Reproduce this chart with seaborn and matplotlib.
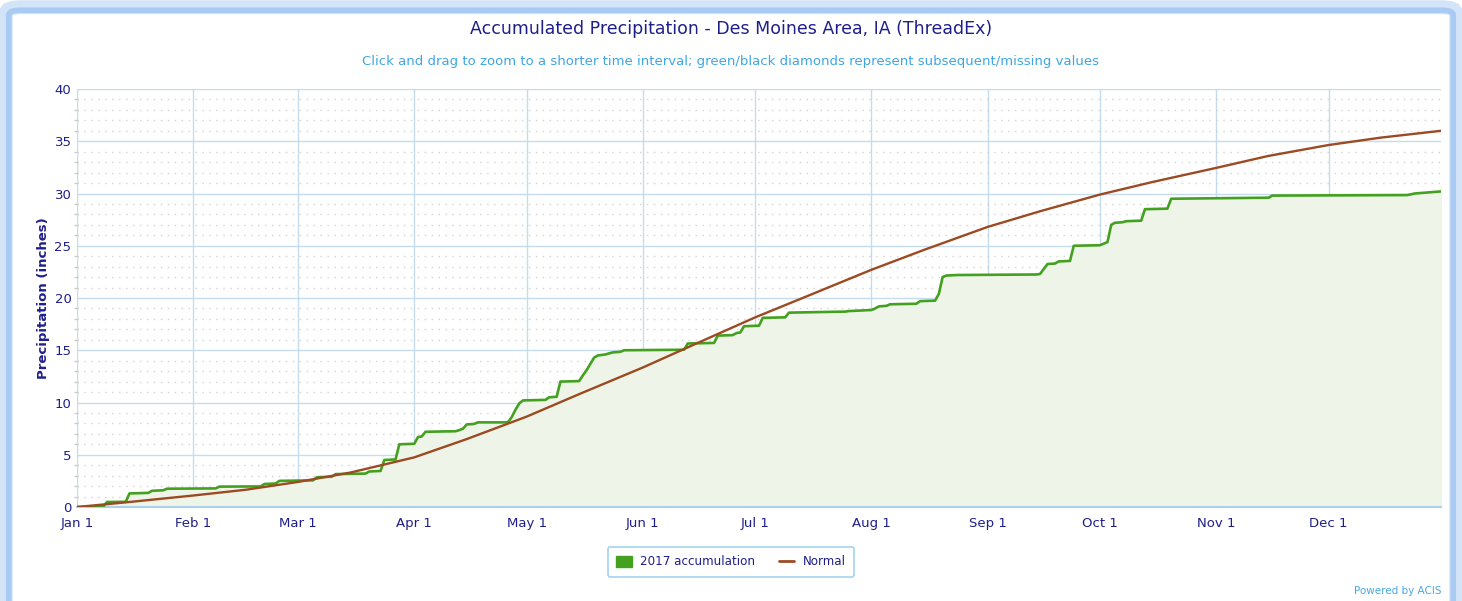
import numpy as np
import pandas as pd
import matplotlib
matplotlib.use("Agg")
import matplotlib.pyplot as plt
from matplotlib.patches import Patch, FancyBboxPatch
from matplotlib.lines import Line2D
import seaborn as sns

# 2017 accumulated precipitation (inches) at its change points
acc_dates = ["01-01", "01-08", "01-09", "01-14", "01-15", "01-20", "01-21", "01-24", "01-25",
             "02-07", "02-08", "02-19", "02-20", "02-23", "02-24", "03-05", "03-06", "03-10",
             "03-11", "03-19", "03-20", "03-23", "03-24", "03-27", "03-28", "04-01", "04-02",
             "04-03", "04-04", "04-12", "04-13", "04-14", "04-15", "04-17", "04-18", "04-26",
             "04-27", "04-28", "04-29", "04-30", "05-06", "05-07", "05-09", "05-10", "05-15",
             "05-16", "05-17", "05-18", "05-19", "05-20", "05-22", "05-24", "05-26", "05-27",
             "06-12", "06-13", "06-20", "06-21", "06-25", "06-26", "06-27", "06-28", "07-02",
             "07-03", "07-09", "07-10", "07-25", "07-26", "08-01", "08-02", "08-03", "08-05",
             "08-06", "08-13", "08-14", "08-18", "08-19", "08-20", "08-21", "08-24", "09-14",
             "09-15", "09-17", "09-19", "09-20", "09-23", "09-24", "10-01", "10-03", "10-04",
             "10-05", "10-07", "10-08", "10-12", "10-13", "10-19", "10-20", "11-15", "11-16",
             "12-22", "12-24", "12-31"]
acc_vals = [0.0, 0.05, 0.48, 0.5, 1.3, 1.35, 1.55, 1.6, 1.75,
            1.78, 1.95, 1.97, 2.2, 2.25, 2.5, 2.55, 2.85, 2.9,
            3.15, 3.2, 3.4, 3.45, 4.5, 4.55, 6.0, 6.05, 6.7,
            6.75, 7.2, 7.25, 7.35, 7.5, 7.9, 7.95, 8.1, 8.1,
            8.6, 9.3, 9.9, 10.2, 10.25, 10.5, 10.55, 12.0, 12.05,
            12.6, 13.1, 13.7, 14.3, 14.5, 14.6, 14.8, 14.85, 15.0,
            15.05, 15.65, 15.7, 16.4, 16.45, 16.65, 16.7, 17.3, 17.35,
            18.1, 18.15, 18.6, 18.7, 18.75, 18.85, 19.0, 19.2, 19.25,
            19.4, 19.45, 19.7, 19.75, 20.4, 22.0, 22.15, 22.2, 22.25,
            22.3, 23.25, 23.3, 23.5, 23.55, 25.0, 25.05, 25.35, 27.0,
            27.2, 27.25, 27.35, 27.4, 28.5, 28.55, 29.5, 29.6, 29.8,
            29.85, 30.0, 30.2]

# Normal accumulation (inches), read at month starts and mid-months
normal_dates = ["01-01", "01-15", "02-01", "02-15", "03-01", "03-15", "04-01", "04-15",
                "05-01", "05-15", "06-01", "06-15", "07-01", "07-15", "08-01", "08-15",
                "09-01", "09-15", "10-01", "10-15", "11-01", "11-15", "12-01", "12-15", "12-31"]
normal_vals = [0.0, 0.48, 1.1, 1.65, 2.4, 3.3, 4.75, 6.5,
               8.65, 10.8, 13.35, 15.6, 18.15, 20.2, 22.7, 24.6,
               26.8, 28.3, 29.9, 31.1, 32.45, 33.6, 34.64, 35.35, 36.0]

month_labels = ["Jan 1", "Feb 1", "Mar 1", "Apr 1", "May 1", "Jun 1",
                "Jul 1", "Aug 1", "Sep 1", "Oct 1", "Nov 1", "Dec 1"]

acc = pd.DataFrame({"date": pd.to_datetime(["2017-" + d for d in acc_dates]), "value": acc_vals})
normal = pd.DataFrame({"date": pd.to_datetime(["2017-" + d for d in normal_dates]), "value": normal_vals})

sns.set_theme(style="white")
plt.rcParams["font.family"] = ["DejaVu Sans"]

navy = "#1f1f8a"
grid_blue = "#c5dcef"
green = "#43a11f"
brown = "#9c4a22"

fig = plt.figure(figsize=(14.62, 6.01), dpi=100)
ax = fig.add_axes([0.0527, 0.1564, 0.9329, 0.6955])

# outer frame of the chart container (open at the bottom, as in the screenshot)
fig.patches.append(FancyBboxPatch((0.004, -0.1), 0.992, 1.088, boxstyle="round,pad=0,rounding_size=0.01",
                                  transform=fig.transFigure, facecolor="none",
                                  edgecolor="#d3e4f8", linewidth=10, zorder=0))
fig.patches.append(FancyBboxPatch((0.006, -0.1), 0.988, 1.083, boxstyle="round,pad=0,rounding_size=0.008",
                                  transform=fig.transFigure, facecolor="none",
                                  edgecolor="#a9caf2", linewidth=4, zorder=0))

ax.fill_between(acc["date"], acc["value"], 0, color="#eef5e8", zorder=1)
sns.lineplot(data=acc, x="date", y="value", ax=ax, color=green, linewidth=1.9, zorder=3)
sns.lineplot(data=normal, x="date", y="value", ax=ax, color=brown, linewidth=1.7, zorder=4)

ax.set_xlim(pd.Timestamp("2017-01-01"), pd.Timestamp("2017-12-31"))
ax.set_ylim(0, 40)

month_ticks = pd.date_range("2017-01-01", periods=12, freq="MS")
ax.set_xticks(month_ticks)
ax.set_xticklabels(month_labels)
ax.set_yticks(np.arange(0, 41, 5))
ax.set_yticks(np.arange(0, 41, 1), minor=True)

ax.grid(which="major", axis="both", color=grid_blue, linewidth=1.0, zorder=0)
ax.grid(which="minor", axis="y", color="#d2d2d2", linestyle=(0, (1, 4)), linewidth=1.0, zorder=0)
ax.set_axisbelow(True)

for s in ["top", "right", "left"]:
    ax.spines[s].set_visible(False)
ax.spines["bottom"].set_color("#a9d0ee")
ax.spines["bottom"].set_linewidth(1.5)

ax.tick_params(axis="x", which="major", length=5, color=grid_blue, labelcolor=navy, labelsize=9.5, pad=2)
ax.tick_params(axis="y", which="major", length=3, color="#bbbbbb", labelcolor=navy, labelsize=9.5, pad=1)
ax.tick_params(axis="y", which="minor", length=2, color="#cccccc", left=True)
ax.tick_params(axis="x", which="minor", bottom=False)

ax.set_xlabel("")
ax.set_ylabel("Precipitation (inches)", color=navy, fontsize=9.5, fontweight="bold", labelpad=3)

fig.text(0.5, 0.952, "Accumulated Precipitation - Des Moines Area, IA (ThreadEx)",
         ha="center", va="center", color=navy, fontsize=12.5)
fig.text(0.5, 0.897, "Click and drag to zoom to a shorter time interval; green/black diamonds represent subsequent/missing values",
         ha="center", va="center", color="#3fa6e0", fontsize=9.5)
fig.text(0.986, 0.016, "Powered by ACIS", ha="right", va="center", color="#4aa8e2", fontsize=7.5)

handles = [Patch(facecolor=green, edgecolor=green, label="2017 accumulation"),
           Line2D([0], [0], color=brown, linewidth=2, label="Normal")]
leg = fig.legend(handles=handles, loc="center", bbox_to_anchor=(0.5, 0.065), ncol=2,
                 frameon=True, fancybox=True, edgecolor="#8cc8ee", fontsize=8.6,
                 handlelength=1.3, handleheight=1.1, columnspacing=2.0, handletextpad=0.7,
                 borderpad=0.7)
leg.get_frame().set_linewidth(1.2)
for t in leg.get_texts():
    t.set_color(navy)

fig.savefig("out.png", dpi=100)
